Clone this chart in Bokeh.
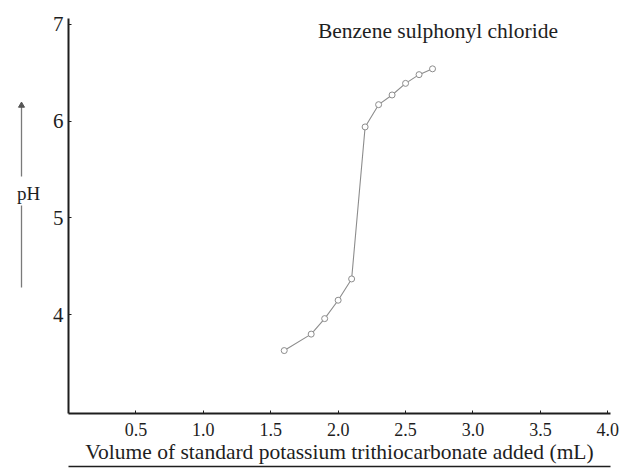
from bokeh.plotting import figure
from bokeh.layouts import row
from bokeh.models import Range1d, FixedTicker, Label, NumeralTickFormatter, LinearAxis
from bokeh.core.properties import value
from bokeh.embed import file_html
from bokeh.resources import INLINE

# Data
volume_ml = [1.6, 1.8, 1.9, 2.0, 2.1, 2.2, 2.3, 2.4, 2.5, 2.6, 2.7]
ph_values = [3.63, 3.80, 3.96, 4.15, 4.37, 5.94, 6.17, 6.27, 6.39, 6.48, 6.54]
x_ticks = [0.5, 1.0, 1.5, 2.0, 2.5, 3.0, 3.5, 4.0]
y_ticks = [4, 5, 6, 7]
series_name = "Benzene sulphonyl chloride"
x_title = "Volume of standard potassium trithiocarbonate added (mL)"
y_title = "pH"

FONT = "Liberation Serif"
INK = "#1e1e1e"
CURVE = "#8c8c8c"

TOP, BOTTOM = 18, 58

# ---- narrow side panel holding the y-axis title with its arrow ----
# its frame is aligned with the main frame (pixel rows 18..413)
side = figure(width=40, height=471, output_backend="svg", toolbar_location=None,
              x_range=Range1d(0, 40), y_range=Range1d(471 - BOTTOM, TOP),
              x_axis_location=None, y_axis_location=None,
              min_border_left=0, min_border_right=0,
              min_border_top=TOP, min_border_bottom=BOTTOM)
side.outline_line_color = None
side.grid.visible = False
side.text(x=[28], y=[193], text=[y_title], text_font=value(FONT),
          text_font_size="19px", text_color=INK, text_align="center",
          text_baseline="middle")
side.segment(x0=[21, 21], y0=[176, 205], x1=[21, 21], y1=[106, 287],
             line_color="#7a7a7a", line_width=1.3)
side.scatter(x=[21], y=[105], marker="triangle", size=6, fill_color="#555555",
             line_color="#555555")

# ---- main chart ----
p = figure(width=580, height=471, output_backend="svg", toolbar_location=None,
           x_range=Range1d(0, 4.02), y_range=Range1d(2.98, 7.06),
           min_border_left=28, min_border_right=10, min_border_top=TOP,
           min_border_bottom=BOTTOM)
p.outline_line_color = None
p.grid.visible = False

p.line(volume_ml, ph_values, line_color=CURVE, line_width=1.1)
p.scatter(volume_ml, ph_values, marker="circle", size=6, fill_color="white",
          line_color=CURVE, line_width=1)

xa = p.xaxis[0]
xa.ticker = FixedTicker(ticks=x_ticks)
xa.formatter = NumeralTickFormatter(format="0.0")
xa.axis_line_color = INK
xa.axis_line_width = 2
xa.major_tick_in = 3
xa.major_tick_out = 0
xa.major_tick_line_color = INK
xa.minor_tick_line_color = None
xa.major_label_text_font = FONT
xa.major_label_text_font_size = "18px"
xa.major_label_text_color = INK
xa.major_label_standoff = 9
xa.axis_label = x_title
xa.axis_label_text_font = FONT
xa.axis_label_text_font_size = "21.5px"
xa.axis_label_text_font_style = "normal"
xa.axis_label_text_color = INK
xa.axis_label_standoff = 1

# underline beneath the x-axis title
under = LinearAxis(ticker=FixedTicker(ticks=[]), axis_line_color=INK,
                   axis_line_width=1.5, major_tick_in=0, major_tick_out=0,
                   minor_tick_line_color=None)
p.add_layout(under, "below")

ya = p.yaxis[0]
ya.ticker = FixedTicker(ticks=y_ticks)
ya.formatter = NumeralTickFormatter(format="0")
ya.axis_line_color = INK
ya.axis_line_width = 2
ya.major_tick_in = 3
ya.major_tick_out = 0
ya.major_tick_line_color = INK
ya.minor_tick_line_color = None
ya.major_label_text_font = FONT
ya.major_label_text_font_size = "21px"
ya.major_label_text_color = INK
ya.major_label_standoff = 5

# Chart title inside the plot
p.add_layout(Label(x=1.85, y=6.926, text=series_name, text_font=FONT,
                   text_font_size="21.5px", text_color=INK, text_align="left",
                   text_baseline="middle"))

layout = row(side, p)
open("out.html", "w").write(file_html(layout, INLINE))
